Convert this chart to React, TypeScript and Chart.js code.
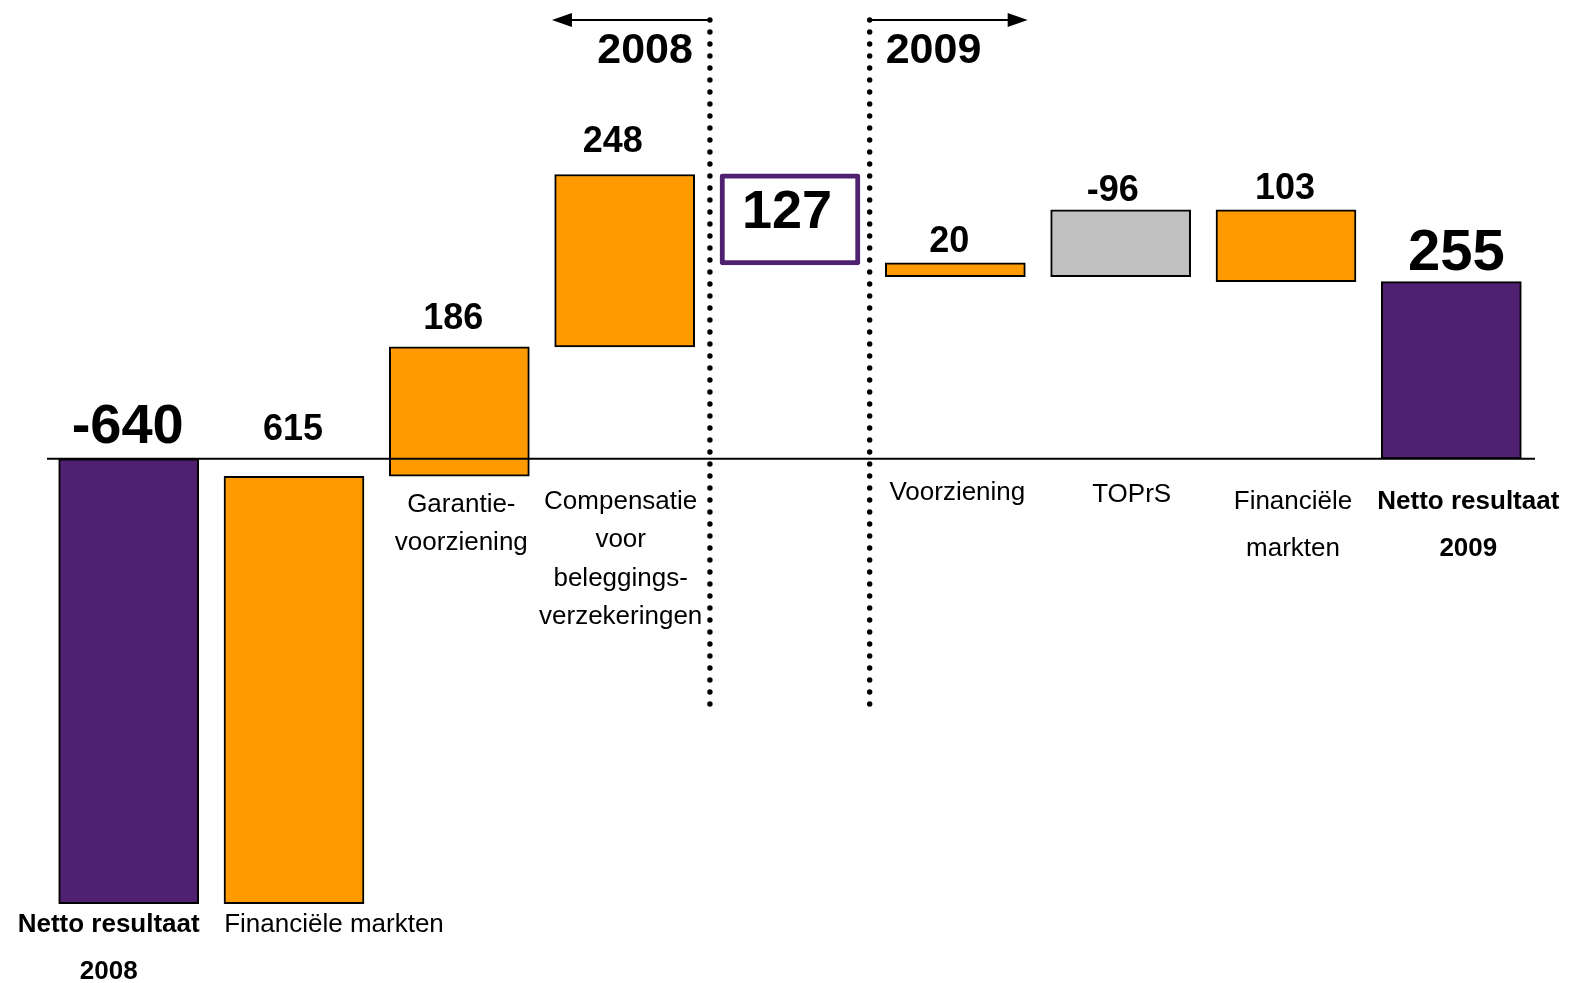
import React, { useEffect, useRef } from "react";
import { Chart, registerables } from "chart.js";
Chart.register(...registerables);

// ---- data ----
const categories = [
  "Netto resultaat 2008",
  "Financiële markten 2008",
  "Garantievoorziening",
  "Compensatie voor beleggingsverzekeringen",
  "Tussenstand",
  "Voorziening",
  "TOPrS",
  "Financiële markten 2009",
  "Netto resultaat 2009",
];
const barStart = [-640, -640, -25, 161, 279, 262, 262, 255, 0];
const barEnd = [0, -25, 161, 409, 410, 282, 358, 358, 255];
const valueLabels = ["-640", "615", "186", "248", "127", "20", "-96", "103", "255"];
const categoryLines = [
  ["Netto resultaat", "2008"],
  ["Financiële markten"],
  ["Garantie-", "voorziening"],
  ["Compensatie", "voor", "beleggings-", "verzekeringen"],
  [],
  ["Voorziening"],
  ["TOPrS"],
  ["Financiële", "markten"],
  ["Netto resultaat", "2009"],
];
const barKinds = ["total", "up", "up", "up", "box", "up", "down", "up", "total"];
const yearLabels = ["2008", "2009"];

// ---- styling / layout (not data) ----
const FONT = 'Arial, "Liberation Sans", Helvetica, sans-serif';
const PURPLE = "#4F2170";
const ORANGE = "#FF9A00";
const GRAY = "#C0C0C0";
const fillFor = (k: string) =>
  k === "total" ? PURPLE : k === "down" ? GRAY : k === "box" ? "#FFFFFF" : ORANGE;
const borderFor = (k: string) => (k === "box" ? PURPLE : "#000000");
const borderWidthFor = (k: string) => (k === "box" ? 5 : 2);

const valueFontSize = [56, 36, 36, 36, 54, 36, 36, 36, 58];
const valueDx = [-1, -1, -6, -12, -3, -6, -8, -1, 5];
const valueDy = [16, 19, 18, 22, 0, 11, 9, 11, 12];
const catBold = [true, false, false, false, false, false, false, false, true];
const catDx = [-20, 40, 2, -4, 0, 2, 11, 7, 17];
const catDy = [21, 21, 29, 43, 0, 34, 36, 43, 43];
const catLineHeight = [47, 47, 38, 38.5, 0, 0, 0, 47, 47];

const overlayPlugin = {
  id: "overlay",
  afterDatasetsDraw(chart: any) {
    const ctx = chart.ctx;
    const xs = chart.scales.x;
    const ys = chart.scales.y;
    const area = chart.chartArea;
    const zeroY = ys.getPixelForValue(0);
    ctx.save();

    // baseline
    ctx.strokeStyle = "#000";
    ctx.lineWidth = 2;
    ctx.beginPath();
    ctx.moveTo(area.left + 1, zeroY);
    ctx.lineTo(area.right + 1, zeroY);
    ctx.stroke();

    // value labels
    ctx.fillStyle = "#000";
    ctx.textAlign = "center";
    for (let i = 0; i < categories.length; i++) {
      const cx = xs.getPixelForValue(i);
      ctx.font = `bold ${valueFontSize[i]}px ${FONT}`;
      if (barKinds[i] === "box") {
        const mid = (ys.getPixelForValue(barStart[i]) + ys.getPixelForValue(barEnd[i])) / 2;
        ctx.textBaseline = "middle";
        ctx.fillText(valueLabels[i], cx + valueDx[i], mid - 6);
        continue;
      }
      const topPx = Math.min(ys.getPixelForValue(Math.max(barStart[i], barEnd[i])), zeroY);
      ctx.textBaseline = "alphabetic";
      ctx.fillText(valueLabels[i], cx + valueDx[i], topPx - valueDy[i]);
    }

    // category labels
    ctx.textBaseline = "middle";
    for (let i = 0; i < categories.length; i++) {
      const lines = categoryLines[i];
      if (!lines.length) continue;
      const cx = xs.getPixelForValue(i);
      const lowPx = Math.max(ys.getPixelForValue(Math.min(barStart[i], barEnd[i])), zeroY);
      ctx.font = `${catBold[i] ? "bold " : ""}26px ${FONT}`;
      lines.forEach((ln, j) => {
        ctx.fillText(ln, cx + catDx[i], lowPx + catDy[i] + j * catLineHeight[i]);
      });
    }

    // dotted separators
    const sepX = [xs.getPixelForValue(3.5) + 2.6, xs.getPixelForValue(4.5) - 3];
    ctx.fillStyle = "#000";
    for (const x of sepX) {
      for (let y = 20; y <= 706; y += 12) {
        ctx.beginPath();
        ctx.arc(x, y, 2.7, 0, Math.PI * 2);
        ctx.fill();
      }
    }

    // arrows
    const arrowY = 20;
    const arrowLen = 158;
    const drawArrow = (from: number, to: number) => {
      const dir = Math.sign(to - from);
      ctx.lineWidth = 2;
      ctx.beginPath();
      ctx.moveTo(from, arrowY);
      ctx.lineTo(to - dir * 16, arrowY);
      ctx.stroke();
      ctx.beginPath();
      ctx.moveTo(to, arrowY);
      ctx.lineTo(to - dir * 20, arrowY - 7);
      ctx.lineTo(to - dir * 20, arrowY + 7);
      ctx.closePath();
      ctx.fill();
    };
    drawArrow(sepX[0], sepX[0] - arrowLen);
    drawArrow(sepX[1], sepX[1] + arrowLen);

    // year labels
    ctx.font = `bold 43px ${FONT}`;
    ctx.textBaseline = "alphabetic";
    ctx.textAlign = "right";
    ctx.fillText(yearLabels[0], sepX[0] - 17, 63);
    ctx.textAlign = "left";
    ctx.fillText(yearLabels[1], sepX[1] + 16, 63);

    ctx.restore();
  },
};

export default function App() {
  const ref = useRef<HTMLCanvasElement>(null);
  useEffect(() => {
    if (!ref.current) return;
    const chart = new Chart(ref.current, {
      type: "bar",
      data: {
        labels: categories,
        datasets: [
          {
            data: barStart.map((s, i) => [s, barEnd[i]]) as any,
            backgroundColor: barKinds.map(fillFor),
            borderColor: barKinds.map(borderFor),
            borderWidth: barKinds.map(borderWidthFor),
            borderSkipped: false,
            borderRadius: barKinds.map((k) => (k === "box" ? 3 : 0)),
            barThickness: 140,
          } as any,
        ],
      },
      options: {
        animation: false,
        responsive: false,
        layout: { padding: { left: 46, right: 35, top: 0, bottom: 0 } },
        plugins: { legend: { display: false }, tooltip: { enabled: false } },
        scales: {
          x: { display: false, offset: true },
          y: { display: false, min: -754, max: 660 },
        },
      },
      plugins: [overlayPlugin],
    });
    return () => chart.destroy();
  }, []);
  return (
    <div style={{ position: "absolute", left: 0, top: 0, width: 1569, height: 983, background: "#fff" }}>
      <canvas ref={ref} width={1569} height={983} />
    </div>
  );
}
